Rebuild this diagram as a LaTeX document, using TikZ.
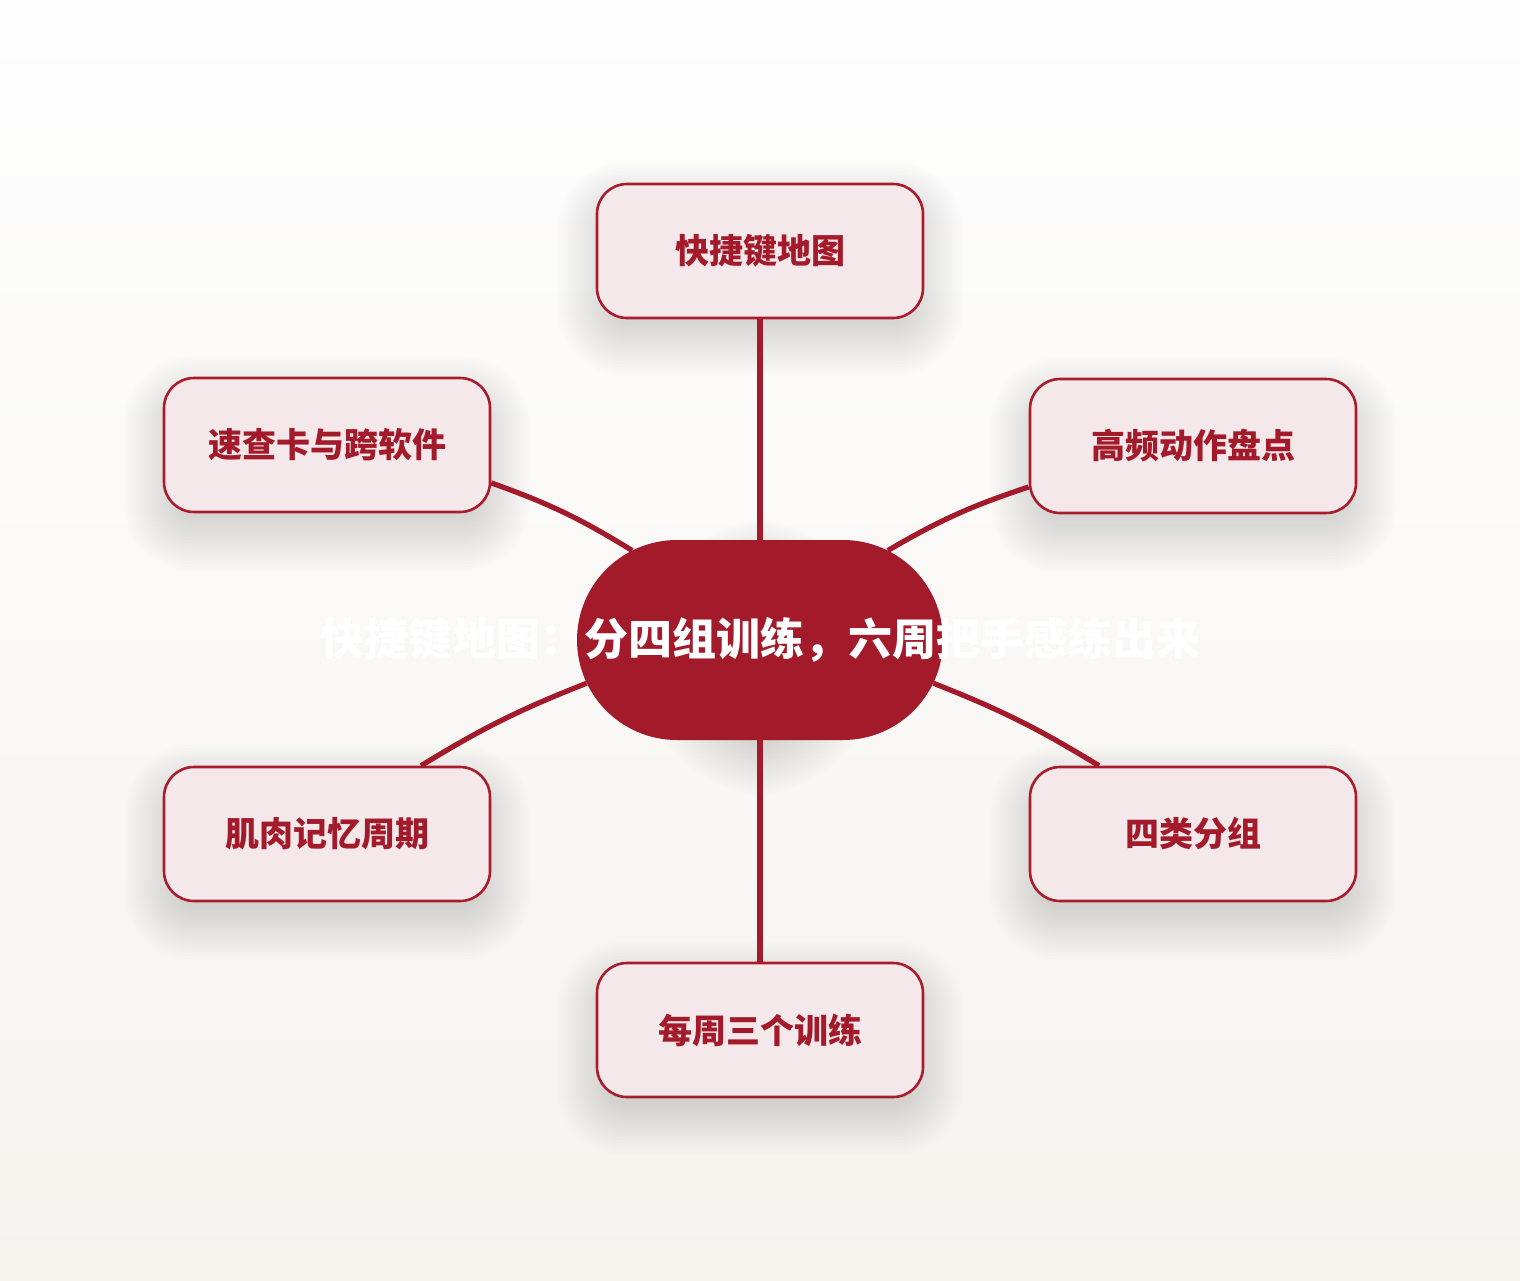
\documentclass[tikz,border=0pt]{standalone}
\usepackage{fontspec}
\newfontfamily\cjk{Noto Sans CJK SC}
\usetikzlibrary{shapes.misc}
\definecolor{mainred}{HTML}{A31A2A}
\definecolor{boxfill}{HTML}{F4E8EA}
\definecolor{boxline}{HTML}{A81C2C}
\definecolor{bgtop}{HTML}{FEFEFE}
\definecolor{bgbot}{HTML}{F6F3EF}
\definecolor{shadowcol}{HTML}{3A3028}
\pgfdeclarelayer{bg}
\pgfdeclarelayer{shadow}
\pgfdeclarelayer{lines}
\pgfsetlayers{bg,shadow,lines,main}
\tikzset{
  x=1pt,y=-1pt,
  centre/.style={rounded rectangle, fill=mainred, minimum width=366pt, minimum height=200pt, inner sep=0pt, text=white, font=\cjk\bfseries\fontsize{44pt}{48pt}\selectfont},
  leaf/.style={rectangle, fill=boxfill, draw=boxline, line width=2.6pt, rounded corners=30pt, minimum width=326pt, minimum height=134pt, inner sep=0pt, text=mainred, font=\cjk\bfseries\fontsize{34pt}{38pt}\selectfont},
  conn/.style={draw=mainred, line width=5.2pt},
  shadowlayer/.style={fill=shadowcol, opacity=0.009}
}
\newcommand\dropshadow[2]{%
  \foreach \d in {-12,-9,...,39}{%
    \fill[shadowlayer, rounded corners={#2pt+\d pt}]
      ([xshift=-\d pt, yshift={-18pt-\d pt}]#1.south west) rectangle
      ([xshift=\d pt, yshift={-18pt+\d pt}]#1.north east);
  }%
}
\begin{document}
\begin{tikzpicture}
\begin{pgfonlayer}{bg}
\shade[top color=bgtop, bottom color=bgbot] (0,0) rectangle (1520,1280);
\end{pgfonlayer}
\useasboundingbox (0,0) rectangle (1520,1280);
\node[leaf] (t) at (760,251) {\raisebox{-2pt}{快捷键地图}};
\node[leaf] (ul) at (327,445) {\raisebox{-2pt}{速查卡与跨软件}};
\node[leaf] (ur) at (1193,446) {\raisebox{-2pt}{高频动作盘点}};
\node[leaf] (ll) at (327,834) {\raisebox{-2pt}{肌肉记忆周期}};
\node[leaf] (lr) at (1193,834) {\raisebox{-2pt}{四类分组}};
\node[leaf] (b) at (760,1030) {\raisebox{-2pt}{每周三个训练}};
\node[centre] (c) at (760,640) {\makebox[0pt]{\raisebox{-2pt}{快捷键地图：分四组训练，六周把手感练出来}}};
\begin{pgfonlayer}{shadow}
\dropshadow{t}{30}
\dropshadow{ul}{30}
\dropshadow{ur}{30}
\dropshadow{ll}{30}
\dropshadow{lr}{30}
\dropshadow{b}{30}
\dropshadow{c}{100}
\end{pgfonlayer}
\begin{pgfonlayer}{lines}
\draw[conn] (c.north) -- (t.south);
\draw[conn] (c.south) -- (b.north);
\draw[conn] (c.145) to[bend right=6] (ul.-13.5);
\draw[conn] (c.35) to[bend left=6] (ur.194);
\draw[conn] (c.194) to[bend right=5] (ll.36.4);
\draw[conn] (c.-14) to[bend left=5] (lr.144);
\end{pgfonlayer}
\end{tikzpicture}
\end{document}
